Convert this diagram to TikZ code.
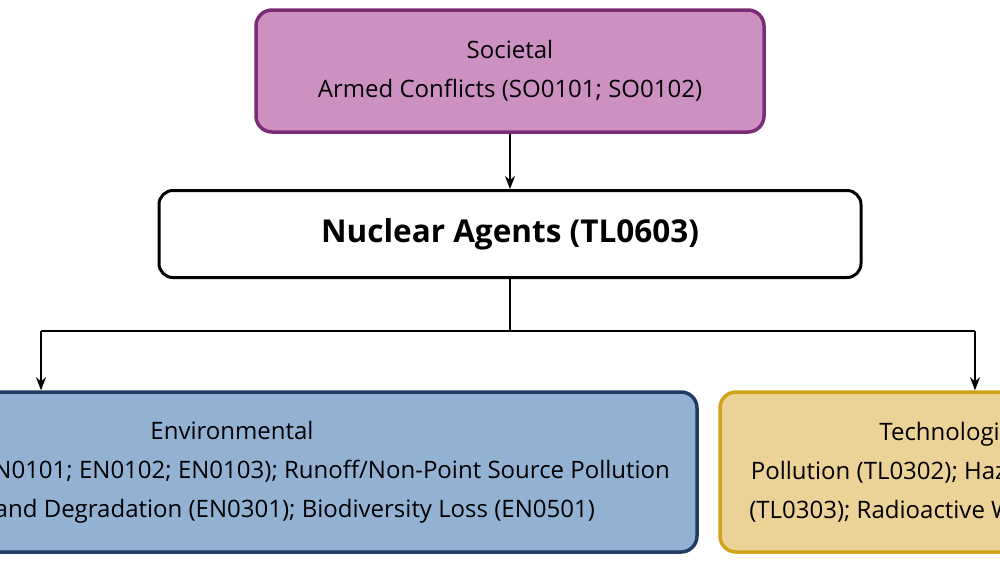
\documentclass[tikz,border=0pt]{standalone}
\usepackage{fontspec}
\setmainfont{Open Sans}
\usetikzlibrary{positioning, calc, arrows.meta}
\definecolor{soc_fill}{HTML}{CD91C1}
\definecolor{soc_line}{HTML}{7B2C77}
\definecolor{env_fill}{HTML}{93B2D3}
\definecolor{env_line}{HTML}{1F3D63}
\definecolor{tec_fill}{HTML}{EBD296}
\definecolor{tec_line}{HTML}{D3A11A}
\tikzset{
  body_font/.style = {font=\fontsize{24}{39}\selectfont},
  head_font/.style = {font=\fontsize{31.5}{35}\selectfont\bfseries},
  group/.style = {body_font, draw, line width=3.5pt, rounded corners=16pt, align=center}
}
\tikzset{
  society/.style = {group, fill=soc_fill, draw=soc_line, minimum width=508, minimum height=122},
  agent/.style = {head_font, draw, line width=3pt, rounded corners=14pt, fill=white, minimum width=702, minimum height=87},
  environ/.style = {group, fill=env_fill, draw=env_line, minimum width=930, minimum height=160},
  techno/.style = {group, fill=tec_fill, draw=tec_line, minimum width=470, minimum height=160},
  link/.style = {line width=1.8pt, -{Stealth[length=13pt, width=10pt]}}
}
\begin{document}
\begin{tikzpicture}[x=1pt, y=-1pt]
    \useasboundingbox (0,0) rectangle (1000,562);
    \clip (0,0) rectangle (1000,562);

    % Boxes
    \node[society] (soc) at (510,71) {
        Societal \\ Armed Conflicts (SO0101; SO0102)};
    \node[agent] (nuc) at (510,234) {Nuclear Agents (TL0603)};
    \node[environ] (env) at (232,472) {
        Environmental \\
        Water Pollution (EN0101; EN0102; EN0103); Runoff/Non-Point Source Pollution \\
        (EN0104); Land Degradation (EN0301); Biodiversity Loss (EN0501)};
    \node[techno] (tec) at (955,472) {
        Technological \\
        Pollution (TL0302); Hazardous Waste \\
        (TL0303); Radioactive Waste (TL0304)};

    % Arrows
    \coordinate (split) at (510,331);
    \coordinate (left_end) at (41,331);
    \coordinate (right_end) at (975,331);
    \draw[link] (soc.south) -- (nuc.north);
    \draw[line width=1.8pt] (nuc.south) -- (split);
    \draw[line width=1.8pt] (left_end) -- (right_end);
    \draw[link] (left_end) -- (left_end |- env.north);
    \draw[link] (right_end) -- (right_end |- tec.north);
\end{tikzpicture}
\end{document}
